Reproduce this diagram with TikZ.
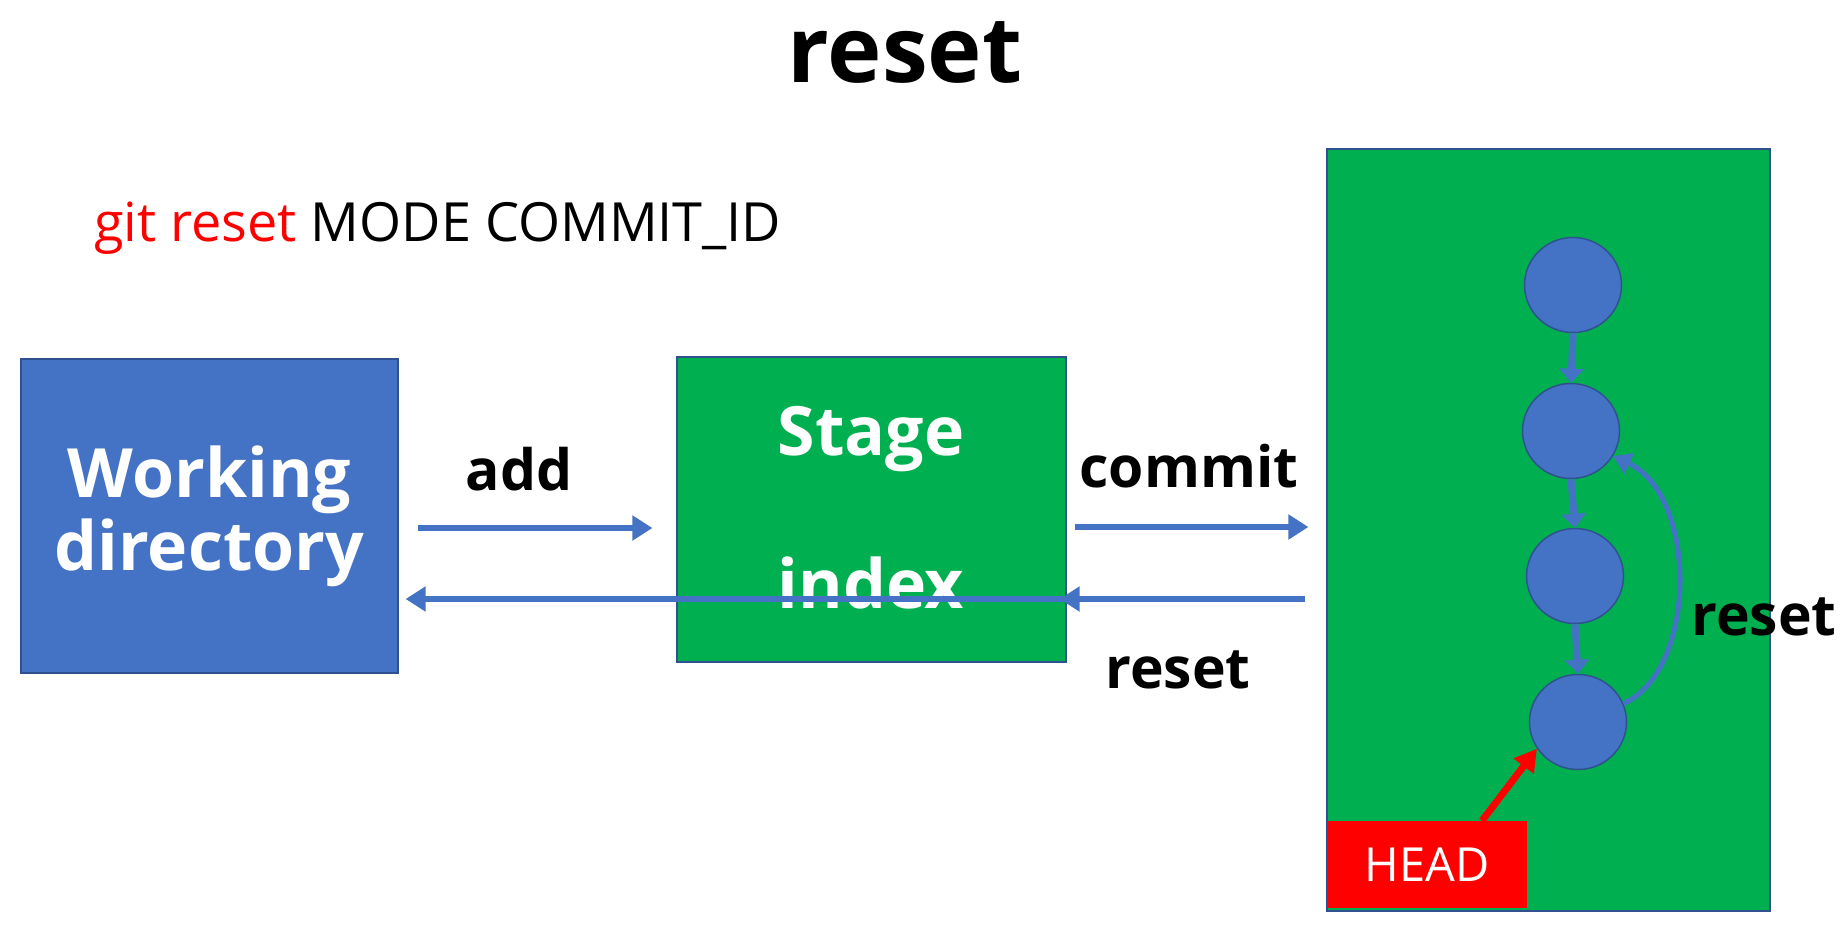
\documentclass[tikz,border=0pt]{standalone}
\usepackage{fontspec}
\setmainfont{Open Sans}
\usetikzlibrary{arrows.meta, shapes.geometric}

\definecolor{boxblue}{HTML}{4472C4}
\definecolor{boxgreen}{HTML}{00B050}
\definecolor{edgeblue}{HTML}{2F528F}

\begin{document}
\begin{tikzpicture}[x=1pt, y=-1pt,
    box/.style={draw=edgeblue, line width=1.2pt, inner sep=0pt},
    boxtext/.style={text=white, font=\fontsize{68}{73}\selectfont\bfseries, align=center},
    lbl/.style={font=\fontsize{57}{60}\selectfont\bfseries, anchor=base},
    commitnode/.style={ellipse, draw=edgeblue, line width=1.5pt, fill=boxblue, minimum width=97pt, minimum height=95pt},
    flow/.style={draw=boxblue, line width=6pt, -{Triangle[length=20pt, width=24pt]}},
    link/.style={draw=boxblue, line width=7pt, -{Triangle[length=14pt, width=24pt]}}]
    \useasboundingbox (0,0) rectangle (1844,927);
    \node[font=\fontsize{92}{92}\selectfont\bfseries, anchor=base] (title) at (905,82) {reset};
    \node[font=\fontsize{54}{58}\selectfont, anchor=base west, inner sep=0pt] (cmd) at (94,241) {\textcolor{red}{git reset} MODE COMMIT\_ID};
    \node[box, fill=boxblue, minimum width=377pt, minimum height=314pt] (wd) at (209.5,516) {};
    \node[boxtext] (wdtext) at (wd) {Working\\directory};
    \node[box, fill=boxgreen, minimum width=389pt, minimum height=305pt] (stage) at (871.5,509.5) {};
    \node[boxtext, anchor=base] (stagetext) at (871,455) {Stage};
    \node[boxtext, anchor=base] (indextext) at (871,608) {index};
    \node[box, fill=boxgreen, minimum width=443pt, minimum height=762pt] (repo) at (1548.5,530) {};
    \node[fill=red, minimum width=200pt, minimum height=87pt, text=white, font=\fontsize{47}{50}\selectfont] (head) at (1427,864.5) {HEAD};
    \node[commitnode] (c1) at (1573,285) {};
    \node[commitnode] (c2) at (1571,431) {};
    \node[commitnode] (c3) at (1575,576) {};
    \node[commitnode] (c4) at (1578,722) {};
    \draw[link] (c1.south) -- (c2.north);
    \draw[link] (c2.south) -- (c3.north);
    \draw[link] (c3.south) -- (c4.north);
    \draw[draw=boxblue, line width=5pt, -{Triangle[length=18pt, width=22pt]}] (c4.22) .. controls (1698,670) and (1698,495) .. (c2.-31);
    \draw[draw=red, line width=7pt, -{Triangle[length=22pt, width=24pt]}] ([xshift=55pt]head.north) -- (c4.213);
    \draw[flow, shorten <=19pt, shorten >=24pt] ([yshift=-12pt]wd.east) -- ([yshift=-18.5pt]stage.west);
    \draw[flow, shorten <=8pt, shorten >=18pt] ([yshift=-17.5pt]stage.east) -- ([yshift=3pt]repo.west);
    \draw[flow, shorten <=21pt, shorten >=-7pt] ([yshift=-69pt]repo.west) -- ([yshift=-89.5pt]stage.east);
    \draw[flow, shorten <=203pt, shorten >=7pt] ([yshift=-69pt]repo.west) -- ([yshift=-83pt]wd.east);
    \node[lbl] (addlbl) at (519,490) {add};
    \node[lbl] (commitlbl) at (1189,487) {commit};
    \node[lbl] (resetlbl) at (1178,688) {reset};
    \node[lbl] (resetloop) at (1764,635) {reset};
\end{tikzpicture}
\end{document}
